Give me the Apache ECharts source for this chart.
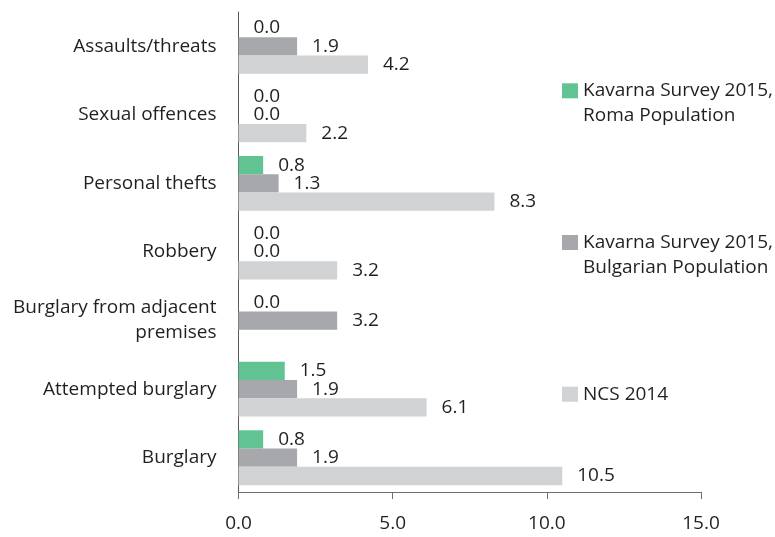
<!DOCTYPE html>
<html>
<head>
<meta charset="utf-8">
<script src="https://cdn.jsdelivr.net/npm/echarts@6/dist/echarts.min.js"></script>
<style>
  html, body { margin: 0; padding: 0; background: #ffffff; }
  #chart { width: 775px; height: 537px; }
</style>
</head>
<body>
<div id="chart"></div>
<script>
// Victimisation rates (%), by offence type
const categories = [
  'Assaults/threats',
  'Sexual offences',
  'Personal thefts',
  'Robbery',
  'Burglary from adjacent\npremises',
  'Attempted burglary',
  'Burglary'
];
const romaValues      = [0.0, 0.0, 0.8, 0.0, 0.0, 1.5, 0.8];
const bulgarianValues = [1.9, 0.0, 1.3, 0.0, 3.2, 1.9, 1.9];
const ncsValues       = [4.2, 2.2, 8.3, 3.2, null, 6.1, 10.5];

const seriesNames = [
  'Kavarna Survey 2015,\nRoma Population',
  'Kavarna Survey 2015,\nBulgarian Population',
  'NCS 2014'
];
const seriesColors = ['#62c392', '#a7a8ab', '#d1d2d4'];
const xTickLabels = ['0.0', '5.0', '10.0', '15.0'];

const FONT = 'Open Sans';
const TEXT = '#231f20';
const FS = 19;

const chart = echarts.init(document.getElementById('chart'), null, { renderer: 'canvas' });

function barSeries(idx, values) {
  return {
    name: seriesNames[idx],
    type: 'bar',
    data: values,
    barGap: '0%',
    barCategoryGap: '20%',
    itemStyle: { color: seriesColors[idx] },
    label: {
      show: true,
      position: 'right',
      distance: 15,
      fontFamily: FONT,
      fontSize: FS,
      color: TEXT,
      formatter: p => (p.value == null ? '' : Number(p.value).toFixed(1))
    },
    emphasis: { disabled: true }
  };
}

// one legend box per series so each can sit at its own height
function legendAt(idx, top) {
  return {
    data: [seriesNames[idx]],
    left: 562,
    top: top,
    padding: 0,
    itemWidth: 16,
    itemHeight: 15,
    itemGap: 0,
    icon: 'rect',
    selectedMode: false,
    formatter: n => (n.indexOf('\n') >= 0 ? '\n' + n : n),
    textStyle: { fontFamily: FONT, fontSize: FS, color: TEXT, lineHeight: 25 }
  };
}

chart.setOption({
  animation: false,
  backgroundColor: '#ffffff',
  textStyle: { fontFamily: FONT },
  grid: { left: 238.5, right: 74, top: 12, bottom: 45, containLabel: false },
  legend: [legendAt(0, 53.3), legendAt(1, 205), legendAt(2, 381.7)],
  xAxis: {
    type: 'value',
    min: 0,
    max: 15,
    interval: 5,
    splitLine: { show: false },
    axisLine: { show: true, lineStyle: { color: '#6d6e71', width: 1 } },
    axisTick: { show: true, length: 7, lineStyle: { color: '#6d6e71', width: 1 } },
    axisLabel: {
      margin: 22,
      fontFamily: FONT,
      fontSize: FS,
      color: TEXT,
      formatter: v => xTickLabels[Math.round(v / 5)]
    }
  },
  yAxis: {
    type: 'category',
    inverse: true,
    data: categories,
    axisLine: { show: true, lineStyle: { color: '#58595b', width: 1 } },
    axisTick: { show: false },
    axisLabel: {
      margin: 22,
      fontFamily: FONT,
      fontSize: FS,
      color: TEXT,
      lineHeight: 25,
      align: 'right'
    }
  },
  series: [
    barSeries(0, romaValues),
    barSeries(1, bulgarianValues),
    barSeries(2, ncsValues)
  ]
});
</script>
</body>
</html>
